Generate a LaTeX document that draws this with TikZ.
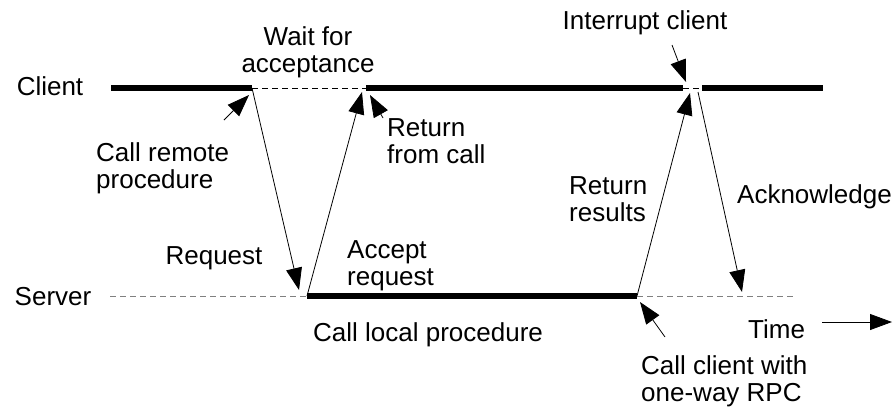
\documentclass[tikz,border=0pt]{standalone}
\usepackage{fontspec}
\setmainfont{Liberation Sans}
\usetikzlibrary{arrows.meta}

\begin{document}
\begin{tikzpicture}[x=1pt,y=-1pt,line join=round,
  busy/.style={line width=5.5pt},
  idle/.style={line width=.9pt,dash pattern=on 6pt off 4pt},
  msg/.style={line width=.8pt,-{Triangle[length=22pt,width=16pt]}},
  lbl/.style={inner sep=0pt,font=\fontsize{26}{27}\selectfont,align=left}]
\useasboundingbox (0,0) rectangle (893,410);
% points on the client line
\coordinate (cs) at (111,88);\coordinate (ca) at (252,88);\coordinate (cb) at (366,88);
\coordinate (cc) at (683,88);\coordinate (cd) at (702,88);\coordinate (ce) at (823,88);
% points on the server line
\coordinate (ss) at (110,296);\coordinate (sa) at (307,296);\coordinate (sb) at (637,296);\coordinate (se) at (796,296);
% message ends
\coordinate (rq) at (299,290);\coordinate (ac) at (362,92);
\coordinate (rr) at (690,93);\coordinate (ak0) at (698,92);\coordinate (ak) at (742,292);
% pointer tails and tips
\coordinate (p1) at (224,120);\coordinate (q1) at (249,95);
\coordinate (p2) at (383,118);\coordinate (q2) at (370,95);
\coordinate (p3) at (672,45);\coordinate (q3) at (686,82);
\coordinate (p4) at (665,337);\coordinate (q4) at (640,302);
\coordinate (t0) at (822,322);\coordinate (t1) at (892,322);

\draw[busy](cs)--(ca);\draw[idle](ca)--(cb);\draw[busy](cb)--(cc);
\draw[idle](cc)--(cd);\draw[busy](cd)--(ce);
\draw[idle,draw=gray](ss)--(sa);\draw[busy](sa)--(sb);\draw[idle,draw=gray](sb)--(se);
\draw[msg](ca)--(rq);\draw[msg](sa)--(ac);
\draw[msg](sb)--(rr);\draw[msg](ak0)--(ak);
\draw[msg](p1)--(q1);\draw[msg](p2)--(q2);\draw[msg](p3)--(q3);\draw[msg](p4)--(q4);
\draw[msg](t0)--(t1);

\node[lbl] (client) at (50,86) {Client};
\node[lbl] (server) at (53,297) {Server};
\node[lbl,align=center] (wait) at (308,52) {Wait for\\acceptance};
\node[lbl] (intr) at (645,23) {Interrupt client};
\node[lbl,anchor=west] (callrem) at (96,168) {Call remote\\procedure};
\node[lbl,anchor=west] (retcall) at (387,141) {Return\\from call};
\node[lbl,anchor=west] (retres) at (569,199) {Return\\results};
\node[lbl,anchor=east] (ack) at (892,197) {Acknowledge};
\node[lbl] (req) at (214,258) {Request};
\node[lbl,anchor=south west] (accept) at (347,291) {Accept\\request};
\node[lbl,anchor=west] (local) at (313,335) {Call local procedure};
\node[lbl,anchor=west] (time) at (748,329) {Time};
\node[lbl,anchor=west] (oneway) at (641,381) {Call client with\\one-way RPC};
\end{tikzpicture}
\end{document}
